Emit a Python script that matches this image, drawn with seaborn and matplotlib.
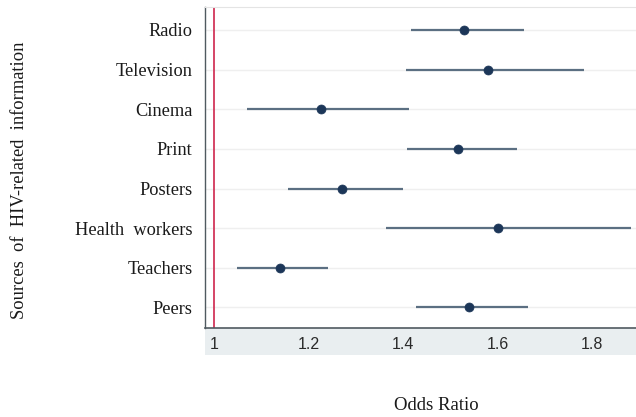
import matplotlib
matplotlib.use("Agg")
import matplotlib.pyplot as plt
from matplotlib.patches import Rectangle
import seaborn as sns
import pandas as pd

# Odds ratios with 95% confidence intervals per information source
sources = ["Radio", "Television", "Cinema", "Print", "Posters",
           "Health  workers", "Teachers", "Peers"]
odds_ratio = [1.53, 1.58, 1.227, 1.516, 1.271, 1.60, 1.14, 1.539]
ci_low = [1.416, 1.406, 1.070, 1.408, 1.157, 1.365, 1.049, 1.427]
ci_high = [1.657, 1.782, 1.413, 1.641, 1.401, 1.883, 1.241, 1.665]
x_ticks = [1, 1.2, 1.4, 1.6, 1.8]
x_tick_labels = ["1", "1.2", "1.4", "1.6", "1.8"]

df = pd.DataFrame({"source": sources, "or": odds_ratio,
                   "lo": ci_low, "hi": ci_high})

sns.set_theme(style="white")
serif = ["Liberation Serif", "DejaVu Serif"]

fig = plt.figure(figsize=(6.36, 4.17), dpi=100)
ax = fig.add_axes([205 / 636, 1 - 328 / 417, 1 - 205 / 636, (328 - 7) / 417])

ypos = list(range(len(sources)))

# light horizontal guides per row
for y in ypos:
    ax.axhline(y, color="#efefef", lw=1.0, zorder=0)

# reference line at OR = 1
ax.axvline(1, color="#d2365a", lw=1.3, zorder=1)

# confidence intervals
ax.hlines(ypos, df["lo"], df["hi"], color="#5b6f82", lw=1.6, zorder=2)

# point estimates
sns.scatterplot(data=df, x="or", y=ypos, ax=ax, s=42, color="#1c3658",
                edgecolor="#1c3658", linewidth=0.5, zorder=3, legend=False)

ax.set_xlim(0.981, 1.893)
ax.set_ylim(7.52, -0.58)
ax.set_yticks(ypos)
ax.set_yticklabels(sources, family=serif, fontsize=13.2, color="#1a1a1a")
ax.set_xticks(x_ticks)
ax.set_xticklabels(x_tick_labels, family=["Liberation Sans", "DejaVu Sans"],
                   fontsize=11.5, color="#2a2a2a")
ax.tick_params(axis="y", length=0, pad=9)
ax.tick_params(axis="x", length=3, width=0.9, color="#555555",
               direction="out", pad=3.5)
ax.set_xlabel("")
ax.set_ylabel("")

ax.spines["right"].set_visible(False)
ax.spines["top"].set_color("#e4e4e4")
ax.spines["top"].set_linewidth(0.8)
ax.spines["left"].set_color("#505a60")
ax.spines["left"].set_linewidth(1.0)
ax.spines["bottom"].set_color("#505a60")
ax.spines["bottom"].set_linewidth(1.2)

# shaded band behind the tick labels
ax.add_patch(Rectangle((0, -27 / 321), 1, 27 / 321, transform=ax.transAxes,
                       facecolor="#e9eef0", edgecolor="none",
                       clip_on=False, zorder=-1))

fig.text(436 / 636, 1 - 406 / 417, "Odds Ratio", family=serif,
         fontsize=13.5, ha="center", va="center", color="#1a1a1a")
fig.text(20 / 636, 1 - 180 / 417, "Sources  of  HIV-related  information",
         family=serif, fontsize=13.3, rotation=90, ha="center", va="center",
         color="#1a1a1a")

fig.savefig("out.png", dpi=100)
